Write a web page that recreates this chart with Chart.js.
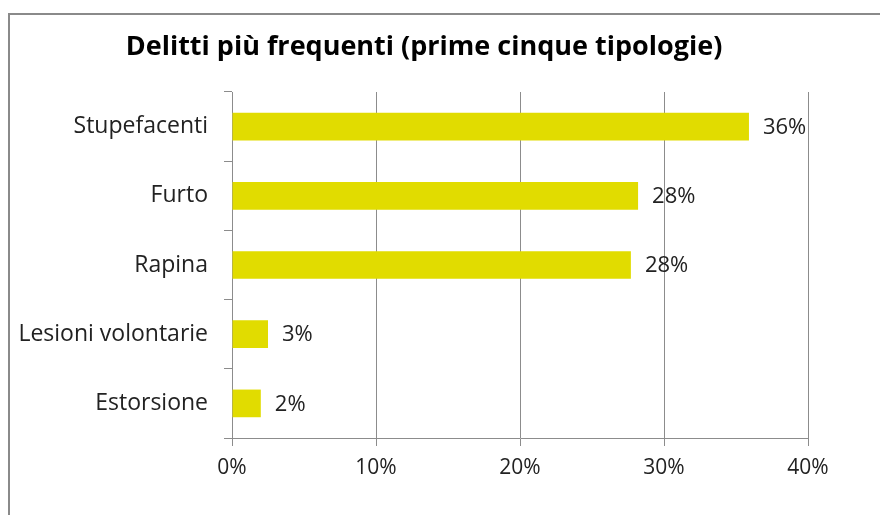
<!DOCTYPE html>
<html>
<head>
<meta charset="utf-8">
<script src="https://cdn.jsdelivr.net/npm/chart.js@4"></script>
<style>
  html, body { margin: 0; padding: 0; background: #fff; }
  #box { position: relative; width: 880px; height: 515px; }
</style>
</head>
<body>
<div id="box"><canvas id="grafico" width="880" height="515"></canvas></div>
<script>
// Dati
const titolo = 'Delitti più frequenti (prime cinque tipologie)';
const categorie = ['Stupefacenti', 'Furto', 'Rapina', 'Lesioni volontarie', 'Estorsione'];
const percentuali = [35.9, 28.2, 27.7, 2.5, 2.0];
const tickAsseX = [0, 10, 20, 30, 40];

const FONT = "'Open Sans', sans-serif";
const grigio = '#8c8c8c';

// Cornice e titolo
const cornice = {
    id: 'cornice',
    afterDraw(chart) {
        const ctx = chart.ctx;
        ctx.save();
        ctx.strokeStyle = '#8a8a8a';
        ctx.lineWidth = 2;
        ctx.beginPath();
        ctx.moveTo(9, 515);
        ctx.lineTo(9, 14);
        ctx.lineTo(880, 14);
        ctx.stroke();
        ctx.fillStyle = '#000';
        ctx.font = 'bold 27px ' + FONT;
        ctx.textAlign = 'center';
        ctx.textBaseline = 'middle';
        ctx.fillText(titolo, 424, 47);
        ctx.restore();
    }
};

// Etichette dei valori
const etichette = {
    id: 'etichette',
    afterDatasetsDraw(chart) {
        const ctx = chart.ctx;
        const meta = chart.getDatasetMeta(0);
        ctx.save();
        ctx.fillStyle = '#222';
        ctx.font = '22px ' + FONT;
        ctx.textAlign = 'left';
        ctx.textBaseline = 'middle';
        meta.data.forEach((bar, i) => {
            ctx.fillText(Math.round(percentuali[i]) + '%', bar.x + 14, bar.y + 1);
        });
        ctx.restore();
    }
};

new Chart(document.getElementById('grafico'), {
    type: 'bar',
    data: {
        labels: categorie,
        datasets: [{
            data: percentuali,
            backgroundColor: '#e1dc00',
            barPercentage: 0.8,
            categoryPercentage: 0.5
        }]
    },
    options: {
        indexAxis: 'y',
        responsive: false,
        animation: false,
        layout: { padding: { top: 92, right: 72, left: 0, bottom: 0 } },
        plugins: {
            legend: { display: false },
            tooltip: { enabled: false }
        },
        scales: {
            x: {
                min: 0,
                max: 40,
                afterFit: (scale) => { scale.height = 77; },
                afterBuildTicks: (scale) => { scale.ticks = tickAsseX.map(v => ({ value: v })); },
                grid: { color: grigio, tickLength: 8, tickColor: grigio },
                border: { color: grigio },
                ticks: {
                    color: '#222',
                    font: { family: FONT, size: 21 },
                    padding: 9,
                    callback: (v) => v + '%'
                }
            },
            y: {
                afterFit: (scale) => { scale.width = 232; },
                grid: { drawOnChartArea: false, offset: true, tickLength: 8, color: grigio },
                border: { color: grigio },
                ticks: {
                    color: '#222',
                    font: { family: FONT, size: 23 },
                    padding: 16
                }
            }
        }
    },
    plugins: [cornice, etichette]
});
</script>
</body>
</html>
